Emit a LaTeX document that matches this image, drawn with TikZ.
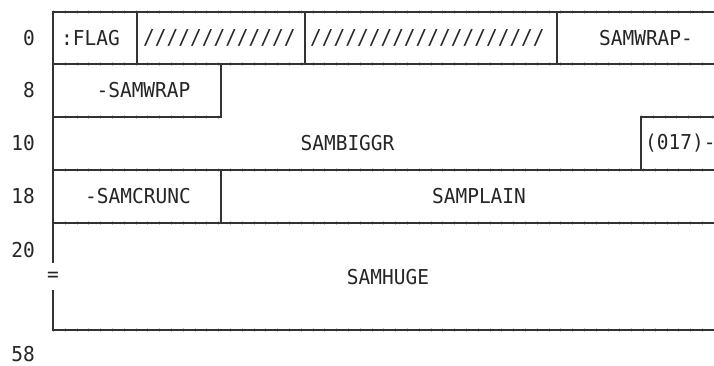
\documentclass[tikz,border=0pt]{standalone}
\usepackage{fontspec}
\newfontfamily\dmono[FakeStretch=0.95]{DejaVu Sans Mono}
\begin{document}
\begin{tikzpicture}[x=1pt,y=-1pt,
  frame/.style={draw=black!80,line width=1.4pt},
  ticks/.style={draw=black!25,line width=3.5pt,dash pattern=on 0.8pt off 11pt},
  txt/.style={inner sep=0pt,text=black!85,font=\dmono\fontsize{20.5}{24}\selectfont},
  lft/.style={txt,anchor=west},
  off/.style={txt,anchor=east}]
\useasboundingbox (0,0) rectangle (714,366);
\clip (0,0) rectangle (714,366);
\fill[white] (0,0) rectangle (714,366);
% tick marks along horizontal rules
\foreach \yy in {12,64,170,223,330} \draw[ticks] (53,\yy) -- (725,\yy);
\draw[ticks] (53,117) -- (221,117);
\draw[ticks] (641,117) -- (725,117);
% frame lines
\draw[frame] (725,12) -- (53,12) -- (53,263);
\draw[frame] (53,290) -- (53,330) -- (725,330);
\draw[frame] (53,64) -- (725,64);
\draw[frame] (53,170) -- (725,170);
\draw[frame] (53,223) -- (725,223);
\draw[frame] (137,12) -- (137,64);
\draw[frame] (305,12) -- (305,64);
\draw[frame] (557,12) -- (557,64);
\draw[frame] (221,64) -- (221,117) -- (53,117);
\draw[frame] (641,170) -- (641,117) -- (725,117);
\draw[frame] (221,170) -- (221,223);
% offsets
\node[off] (o0)  at (35,38)    {0};
\node[off] (o8)  at (35,90.5)  {8};
\node[off] (o10) at (35,143.5) {10};
\node[off] (o18) at (35,196.5) {18};
\node[off] (o20) at (35,250)   {20};
\node[off] (o58) at (35,354)   {58};
\node[txt] (eq) at (53,277) {=};
% fields
\node[lft] (flag) at (61,38) {:FLAG};
\node[lft] (res1) at (143,38) {/////////////};
\node[lft] (res2) at (310,38) {////////////////////};
\node[txt] (wrap1) at (646,38) {SAMWRAP-};
\node[txt] (wrap2) at (143.5,90.5) {-SAMWRAP};
\node[txt] (biggr) at (347.5,143.5) {SAMBIGGR};
\node[lft] (b017) at (645,143.5) {(017)-};
\node[txt] (crunc) at (138,196.5) {-SAMCRUNC};
\node[txt] (plain) at (479,196.5) {SAMPLAIN};
\node[txt] (huge) at (388,277) {SAMHUGE};
\end{tikzpicture}
\end{document}
